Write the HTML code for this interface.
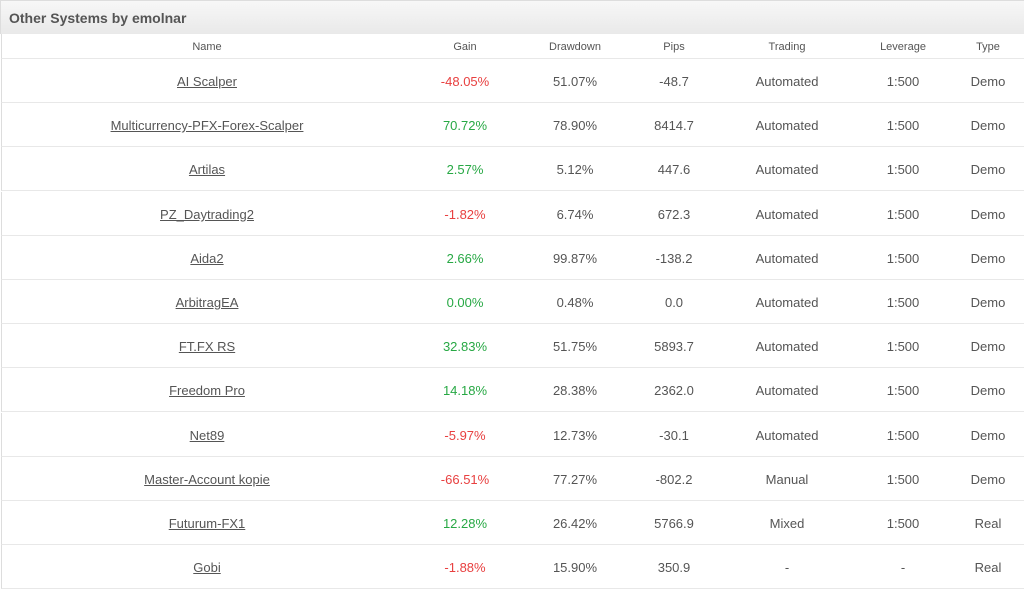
<!DOCTYPE html><html><head><style>
body{margin:0;width:1024px;height:587px;overflow:hidden;background:#fff;font-family:"Liberation Sans",sans-serif;color:#555}
.t{position:absolute;left:0;top:0;width:1024px;height:34px;background:linear-gradient(#f7f7f7,#e9e9e9);border-top:1px solid #ddd;border-left:1px solid #ddd;box-sizing:border-box}
.t span{position:absolute;left:8px;top:9px;font-weight:bold;font-size:14px;color:#555}
.row{position:absolute;left:1px;width:1023px;border-bottom:1px solid #e8e8e8;border-left:1px solid #ddd}
.c{position:absolute;transform:translateX(-50%);white-space:nowrap;font-size:13px}
.h .c{font-size:11px;top:7px}
.r .c{top:15px}
.n{text-decoration:underline;color:#555}
.g{color:#27a844}.b{color:#e84040}
</style></head><body>
<div class="t"><span>Other Systems by emolnar</span></div>
<div class="row h" style="top:34px;height:24px">
<div class="c" style="left:205px">Name</div><div class="c" style="left:463px">Gain</div><div class="c" style="left:573px">Drawdown</div><div class="c" style="left:672px">Pips</div><div class="c" style="left:785px">Trading</div><div class="c" style="left:901px">Leverage</div><div class="c" style="left:986px">Type</div></div>
<div id="rows"></div>
<script>
var d=[["AI Scalper","-48.05%","51.07%","-48.7","Automated","1:500","Demo"],
["Multicurrency-PFX-Forex-Scalper","70.72%","78.90%","8414.7","Automated","1:500","Demo"],
["Artilas","2.57%","5.12%","447.6","Automated","1:500","Demo"],
["PZ_Daytrading2","-1.82%","6.74%","672.3","Automated","1:500","Demo"],
["Aida2","2.66%","99.87%","-138.2","Automated","1:500","Demo"],
["ArbitragEA","0.00%","0.48%","0.0","Automated","1:500","Demo"],
["FT.FX RS","32.83%","51.75%","5893.7","Automated","1:500","Demo"],
["Freedom Pro","14.18%","28.38%","2362.0","Automated","1:500","Demo"],
["Net89","-5.97%","12.73%","-30.1","Automated","1:500","Demo"],
["Master-Account kopie","-66.51%","77.27%","-802.2","Manual","1:500","Demo"],
["Futurum-FX1","12.28%","26.42%","5766.9","Mixed","1:500","Real"],
["Gobi","-1.88%","15.90%","350.9","-","-","Real"]];
var x=[205,463,573,672,785,901,986],h="";
d.forEach(function(r,i){var top=Math.round(59+i*44.2);h+='<div class="row r" style="top:'+top+'px;height:43px">';
r.forEach(function(v,j){var cl=j==0?"n":j==1?(v[0]=="-"?"b":"g"):"";h+='<div class="c '+cl+'" style="left:'+x[j]+'px">'+v+'</div>'});h+='</div>'});
document.getElementById("rows").innerHTML=h;
</script></body></html>
